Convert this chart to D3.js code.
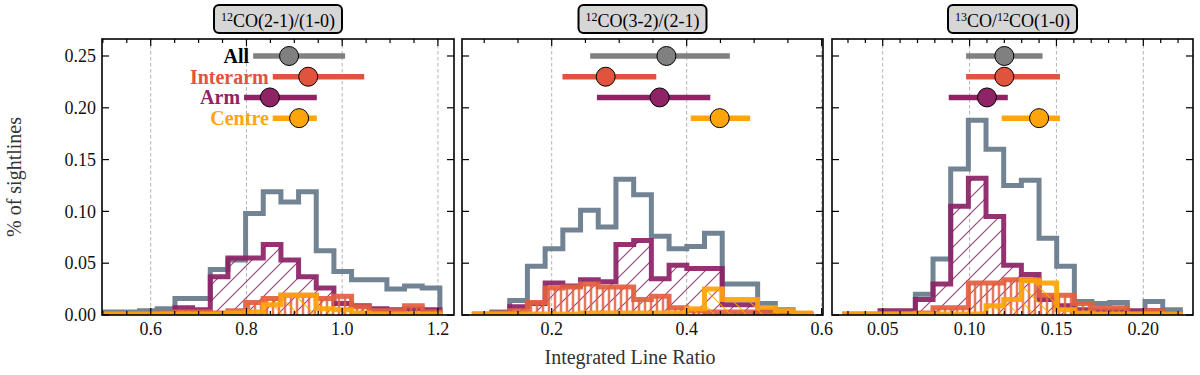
<!DOCTYPE html>
<html>
<head>
<meta charset="utf-8">
<script src="https://cdn.jsdelivr.net/npm/d3@7"></script>
<style>
  body { margin: 0; background: #fff; }
  svg { display: block; }
  text { font-family: 'Liberation Serif', 'DejaVu Serif', serif; }
</style>
</head>
<body>
<svg id="chart"></svg>
<script>
const width = 1200, height = 375;

const groups = ["All", "Interarm", "Arm", "Centre"];
const markerY = [0.25, 0.23, 0.21, 0.19];
const yTicks = [0, 0.05, 0.10, 0.15, 0.20, 0.25];

// panel 1: 12CO(2-1)/(1-0)
const bins1 = { start: 0.503, width: 0.0369 };
const all1      = [0.003, 0.003, 0.004, 0.006, 0.016, 0.016, 0.044, 0.053, 0.098, 0.119, 0.109, 0.119, 0.062, 0.042, 0.034, 0.034, 0.025, 0.028, 0.026];
const interarm1 = [0.001, 0.001, 0.001, 0.002, 0.003, 0.003, 0.002, 0.004, 0.012, 0.016, 0.019, 0.019, 0.016, 0.018, 0.008, 0.004, 0.004, 0.009, 0.003];
const arm1      = [0, 0, 0, 0, 0.007, 0.005, 0.037, 0.055, 0.055, 0.068, 0.053, 0.037, 0.026, 0.011, 0.009, 0.006, 0.005, 0.006, 0.005];
const centre1   = [0.001, 0.001, 0.001, 0.001, 0.001, 0.001, 0.001, 0.002, 0.003, 0.010, 0.019, 0.019, 0.006, 0.005, 0.002, 0.001, 0.001, 0.001, 0.001];
const med1 = [0.889, 0.929, 0.849, 0.910];
const lo1  = [0.814, 0.855, 0.795, 0.855];
const hi1  = [1.006, 1.046, 0.947, 0.947];

// panel 2: 12CO(3-2)/(2-1)
const bins2 = { start: 0.0853, width: 0.02624 };
const all2      = [0, 0.003, 0.014, 0.047, 0.064, 0.082, 0.101, 0.085, 0.131, 0.116, 0.076, 0.064, 0.066, 0.079, 0.030, 0.030, 0.011, 0.005, 0.001];
const interarm2 = [0.001, 0.002, 0.004, 0.012, 0.026, 0.027, 0.030, 0.027, 0.027, 0.015, 0.018, 0.007, 0.004, 0.003, 0.003, 0.003, 0.002, 0.001, 0.001];
const arm2      = [0, 0.002, 0.008, 0.011, 0.031, 0.028, 0.034, 0.032, 0.068, 0.072, 0.035, 0.048, 0.045, 0.045, 0.010, 0.010, 0.004, 0.002, 0.001];
const centre2   = [0.001, 0.001, 0.001, 0.001, 0.001, 0.001, 0.002, 0.002, 0.002, 0.002, 0.002, 0.002, 0.006, 0.025, 0.015, 0.015, 0.007, 0.004, 0.002];
const med2 = [0.370, 0.280, 0.360, 0.449];
const lo2  = [0.257, 0.216, 0.267, 0.406];
const hi2  = [0.464, 0.355, 0.435, 0.494];

// panel 3: 13CO/12CO(1-0)
const bins3 = { start: 0.0281, width: 0.01017 };
const all3      = [0, 0, 0, 0, 0.020, 0.054, 0.141, 0.188, 0.160, 0.125, 0.130, 0.074, 0.047, 0.013, 0.011, 0.012, 0.001, 0.013, 0.005];
const interarm3 = [0.001, 0.001, 0.001, 0.001, 0.002, 0.007, 0.007, 0.031, 0.031, 0.034, 0.034, 0.019, 0.019, 0.011, 0.007, 0.007, 0.001, 0.004, 0.001];
const arm3      = [0, 0, 0.004, 0.004, 0.015, 0.030, 0.105, 0.132, 0.095, 0.048, 0.039, 0.015, 0.009, 0.005, 0.004, 0.004, 0.004, 0.004, 0.001];
const centre3   = [0.001, 0.001, 0.001, 0.001, 0.001, 0.001, 0.001, 0.001, 0.009, 0.015, 0.033, 0.031, 0.005, 0.002, 0.001, 0.001, 0.001, 0.001, 0.001];
const med3 = [0.120, 0.120, 0.110, 0.140];
const lo3  = [0.098, 0.098, 0.088, 0.1185];
const hi3  = [0.142, 0.152, 0.122, 0.152];

const histColors = { All: "#66798b", Interarm: "#e2603f", Arm: "#8c2266", Centre: "#ffa30a" };
const barColors  = { All: "#808080", Interarm: "#e0533c", Arm: "#8e2466", Centre: "#ffa50a" };
const labelColors = { All: "#000", Interarm: "#e0533c", Arm: "#8e2466", Centre: "#ffa50a" };

const panels = [
  { title: [["12", true], ["CO(2-1)/(1-0)", false]], x0: 102, x1: 454, domain: [0.4982, 1.2336],
    major: [0.6, 0.8, 1.0, 1.2], minorStep: 0.05, fmt: d3.format(".1f"), bins: bins1,
    hist: { All: all1, Interarm: interarm1, Arm: arm1, Centre: centre1 }, med: med1, lo: lo1, hi: hi1, legend: true, yLabels: true },
  { title: [["12", true], ["CO(3-2)/(2-1)", false]], x0: 462, x1: 823, domain: [0.0671, 0.602],
    major: [0.2, 0.4, 0.6], minorStep: 0.05, fmt: d3.format(".1f"), bins: bins2,
    hist: { All: all2, Interarm: interarm2, Arm: arm2, Centre: centre2 }, med: med2, lo: lo2, hi: hi2 },
  { title: [["13", true], ["CO/", false], ["12", true], ["CO(1-0)", false]], x0: 832, x1: 1193, domain: [0.0208, 0.2286],
    major: [0.05, 0.10, 0.15, 0.20], minorStep: 0.01, fmt: d3.format(".2f"), bins: bins3,
    hist: { All: all3, Interarm: interarm3, Arm: arm3, Centre: centre3 }, med: med3, lo: lo3, hi: hi3 }
];

const plotTop = 39, plotBottom = 315;
const y = d3.scaleLinear().domain([0, 0.2664]).range([plotBottom, plotTop]);

const svg = d3.select("#chart").attr("width", width).attr("height", height);
const defs = svg.append("defs");

// hatch patterns
function hatch(id, size, color, lineW, draw) {
  const p = defs.append("pattern").attr("id", id)
    .attr("patternUnits", "userSpaceOnUse")
    .attr("width", size).attr("height", size);
  p.append("path").attr("d", draw(size))
    .attr("stroke", color).attr("stroke-width", lineW).attr("fill", "none");
}
hatch("hatch-arm", 16, histColors.Arm, 1.2, s => `M0,${s} L${s},0 M${-s/4},${s/4} L${s/4},${-s/4} M${s*3/4},${s*5/4} L${s*5/4},${s*3/4}`);
hatch("hatch-interarm", 6, histColors.Interarm, 2.5, s => `M${s/2},0 L${s/2},${s}`);
hatch("hatch-centre", 16, histColors.Centre, 1.2, s => `M0,0 L${s},${s} M${-s/4},${s*3/4} L${s/4},${s*5/4} M${s*3/4},${-s/4} L${s*5/4},${s/4}`);

const hatchFill = { All: "none", Interarm: "url(#hatch-interarm)", Arm: "url(#hatch-arm)", Centre: "url(#hatch-centre)" };

panels.forEach((p, i) => {
  const x = d3.scaleLinear().domain(p.domain).range([p.x0, p.x1]);
  const g = svg.append("g");

  defs.append("clipPath").attr("id", "clip" + i)
    .append("rect").attr("x", p.x0).attr("y", plotTop).attr("width", p.x1 - p.x0).attr("height", plotBottom - plotTop);

  // grid
  g.append("g").selectAll("line").data(p.major).join("line")
    .attr("x1", d => x(d)).attr("x2", d => x(d))
    .attr("y1", plotTop).attr("y2", plotBottom)
    .attr("stroke", "#aaa").attr("stroke-width", 0.9).attr("stroke-dasharray", "3.5,2.5");

  // histograms
  const hg = g.append("g").attr("clip-path", `url(#clip${i})`);
  ["All", "Arm", "Interarm", "Centre"].forEach(key => {
    const vals = p.hist[key];
    const edges = d3.range(vals.length + 1).map(k => p.bins.start + k * p.bins.width);
    let d = `M${x(edges[0])},${y(0)}`;
    vals.forEach((v, k) => {
      d += ` L${x(edges[k])},${y(v)} L${x(edges[k + 1])},${y(v)}`;
    });
    d += ` L${x(edges[vals.length])},${y(0)}`;
    if (key !== "All") {
      hg.append("path").attr("d", d + " Z").attr("fill", hatchFill[key]).attr("opacity", 0.85);
    }
    hg.append("path").attr("d", d)
      .attr("fill", "none")
      .attr("stroke", histColors[key])
      .attr("stroke-width", 5)
      .attr("stroke-linejoin", "miter")
      .attr("opacity", 0.92);
  });

  // error bars with median markers
  const eg = g.append("g");
  groups.forEach((grp, k) => {
    eg.append("line")
      .attr("x1", x(p.lo[k])).attr("x2", x(p.hi[k]))
      .attr("y1", y(markerY[k])).attr("y2", y(markerY[k]))
      .attr("stroke", barColors[grp]).attr("stroke-width", 5.5);
    eg.append("circle")
      .attr("cx", x(p.med[k])).attr("cy", y(markerY[k])).attr("r", 9.5)
      .attr("fill", barColors[grp]).attr("stroke", "#000").attr("stroke-width", 1);
    if (p.legend) {
      eg.append("text")
        .attr("x", x(p.lo[k]) - 4).attr("y", y(markerY[k]))
        .attr("dy", "0.35em")
        .attr("text-anchor", "end")
        .attr("font-size", 20).attr("font-weight", "bold")
        .attr("fill", labelColors[grp])
        .text(grp);
    }
  });

  // frame
  g.append("rect").attr("x", p.x0).attr("y", plotTop)
    .attr("width", p.x1 - p.x0).attr("height", plotBottom - plotTop)
    .attr("fill", "none").attr("stroke", "#000").attr("stroke-width", 1.6);

  // x ticks (inward, top and bottom)
  const minor = d3.range(Math.ceil(p.domain[0] / p.minorStep - 1e-6), Math.floor(p.domain[1] / p.minorStep + 1e-6) + 1)
    .map(k => +(k * p.minorStep).toFixed(4))
    .filter(v => !p.major.some(m => Math.abs(m - v) < 1e-6));
  const tg = g.append("g").attr("stroke", "#000").attr("stroke-width", 1.2);
  p.major.forEach(v => {
    tg.append("line").attr("x1", x(v)).attr("x2", x(v)).attr("y1", plotBottom).attr("y2", plotBottom - 7);
    tg.append("line").attr("x1", x(v)).attr("x2", x(v)).attr("y1", plotTop).attr("y2", plotTop + 7);
  });
  minor.forEach(v => {
    tg.append("line").attr("x1", x(v)).attr("x2", x(v)).attr("y1", plotBottom).attr("y2", plotBottom - 4);
    tg.append("line").attr("x1", x(v)).attr("x2", x(v)).attr("y1", plotTop).attr("y2", plotTop + 4);
  });
  yTicks.forEach(v => {
    tg.append("line").attr("x1", p.x0).attr("x2", p.x0 + 7).attr("y1", y(v)).attr("y2", y(v));
    tg.append("line").attr("x1", p.x1).attr("x2", p.x1 - 7).attr("y1", y(v)).attr("y2", y(v));
  });

  g.append("g").selectAll("text").data(p.major).join("text")
    .attr("x", d => x(d)).attr("y", plotBottom + 20)
    .attr("text-anchor", "middle").attr("font-size", 18).attr("fill", "#111")
    .text(d => p.fmt(d));

  if (p.yLabels) {
    g.append("g").selectAll("text").data(yTicks).join("text")
      .attr("x", p.x0 - 6).attr("y", d => y(d)).attr("dy", "0.35em")
      .attr("text-anchor", "end").attr("font-size", 18).attr("fill", "#111")
      .text(d => d3.format(".2f")(d));
  }

  // title box
  const cx = (p.x0 + p.x1) / 2;
  const tb = g.append("g");
  const box = tb.append("rect");
  const t = tb.append("text").attr("x", cx).attr("y", 27)
    .attr("text-anchor", "middle").attr("font-size", 18).attr("fill", "#000");
  p.title.forEach(([s, sup], j) => {
    const prevSup = j > 0 && p.title[j - 1][1];
    t.append("tspan")
      .attr("font-size", sup ? 12 : 18)
      .attr("dy", sup ? (prevSup ? 0 : -6) : (prevSup ? 6 : 0))
      .text(s);
  });
  const bb = t.node().getBBox();
  box.attr("x", bb.x - 7).attr("y", 5).attr("width", bb.width + 14).attr("height", 28)
    .attr("rx", 5).attr("fill", "#d6d6d6").attr("stroke", "#000").attr("stroke-width", 2);
});

// axis labels
svg.append("text")
  .attr("transform", `translate(21,${(plotTop + plotBottom) / 2}) rotate(-90)`)
  .attr("text-anchor", "middle").attr("font-size", 20).attr("fill", "#333")
  .text("% of sightlines");

svg.append("text")
  .attr("x", 630).attr("y", 364)
  .attr("text-anchor", "middle").attr("font-size", 20).attr("fill", "#333")
  .text("Integrated Line Ratio");
</script>
</body>
</html>
